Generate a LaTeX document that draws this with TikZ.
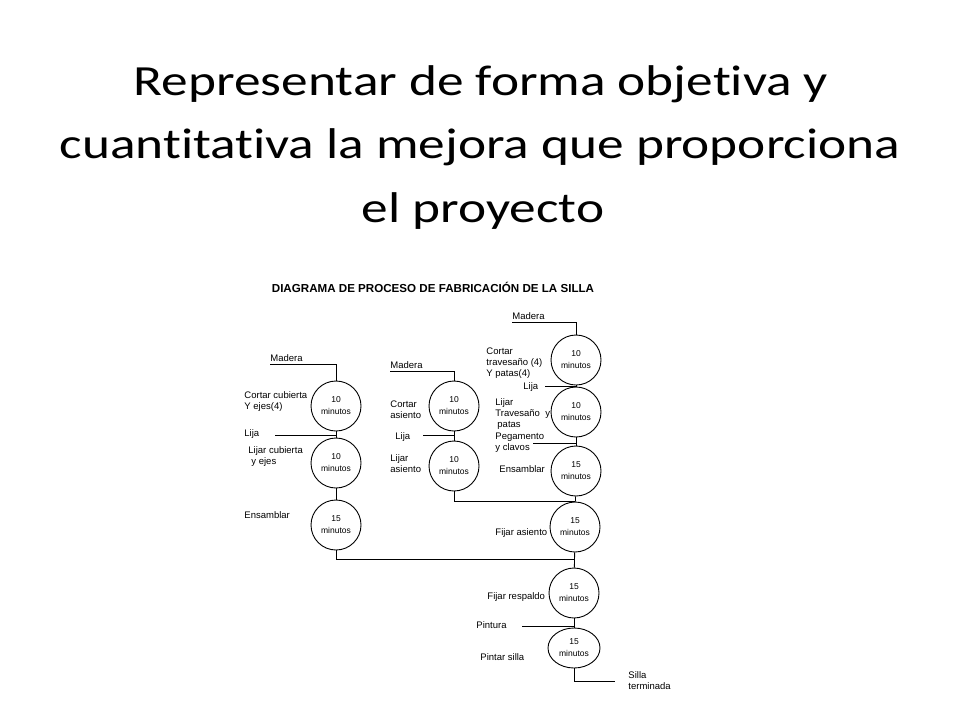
\documentclass[tikz,border=0pt]{standalone}
\usepackage{fontspec}
\setmainfont{Liberation Sans}
\newfontfamily\titlefont{Carlito}[FakeStretch=1.24,Ligatures=NoCommon]
\usetikzlibrary{shapes.geometric}

\begin{document}
\begin{tikzpicture}[x=1pt,y=-1pt,line width=0.9pt,
  paso/.style={draw, circle, minimum size=50pt, inner sep=0pt, align=center, font=\fontsize{8.5}{12}\selectfont},
  etiq/.style={anchor=west, align=left, inner sep=0pt, font=\fontsize{9.5}{11}\selectfont}]
\useasboundingbox (0,0) rectangle (960,720);

% title
\node[anchor=base, font=\titlefont\fontsize{43}{50}\selectfont] (tit1) at (481,95) {Representar de forma objetiva y};
\node[anchor=base, font=\titlefont\fontsize{43}{50}\selectfont] (tit2) at (480,158) {cuantitativa la mejora que proporciona};
\node[anchor=base, font=\titlefont\fontsize{43}{50}\selectfont] (tit3) at (483,222) {el proyecto};

\node[font=\bfseries\fontsize{11.6}{13}\selectfont] (diagtit) at (433,287) {DIAGRAMA DE PROCESO DE FABRICACIÓN DE LA SILLA};

% steps
\node[paso] (c1a) at (336,406) {10\\minutos};
\node[paso] (c1b) at (336,463) {10\\minutos};
\node[paso] (c1c) at (336,525) {15\\minutos};
\node[paso] (c2a) at (454,406) {10\\minutos};
\node[paso] (c2b) at (454,466) {10\\minutos};
\node[paso] (c3a) at (576,360) {10\\minutos};
\node[paso] (c3b) at (576,412) {10\\minutos};
\node[paso] (c3c) at (576,471) {15\\minutos};
\node[paso] (c4) at (575,527) {15\\minutos};
\node[paso] (c5) at (574,593) {15\\minutos};
\node[paso, ellipse, minimum width=52pt, minimum height=40pt] (c6) at (574,648) {15\\minutos};

% inputs
\coordinate (m1) at (270,364);
\coordinate (m2) at (390,371);
\coordinate (m3) at (512,322);
\coordinate (l1) at (275,435);
\coordinate (l2) at (423,435);
\coordinate (l3) at (545,386);
\coordinate (pg) at (533,443);
\coordinate (pt) at (522,626);
\coordinate (j2) at (574,559);
\coordinate (fin) at (615,681);

\node[etiq, anchor=base west] (tmad1) at (270,361) {Madera};
\node[etiq, anchor=base west] (tmad2) at (390,368) {Madera};
\node[etiq, anchor=base west] (tmad3) at (512,319) {Madera};

\draw (m1) -| (c1a.north);
\draw (m2) -| (c2a.north);
\draw (m3) -| (c3a.north);
\draw (l1) -- (l1 -| c1a);
\draw (l2) -- (l2 -| c2a);
\draw (l3) -- (l3 -| c3a);
\draw (pg) -- (pg -| c3b);
\draw (pt) -- (pt -| c5);

\draw (c1a) -- (c1b);
\draw (c1b) -- (c1c);
\draw (c2a) -- (c2b);
\draw (c3a) -- (c3b);
\draw (c3b) -- (c3c);
\draw (c3c) -- (c4);
\draw (c4) -- (c5);
\draw (c5) -- (c6);
\draw (c2b.south) |- (c4.north);
\draw (c1c.south) |- (j2);
\draw (c6.south) |- (fin);

% labels
\node[etiq] (tcortar1) at (244,402) {Cortar cubierta\\Y ejes(4)};
\node[etiq] (tlija1) at (244,434) {Lija};
\node[etiq] (tlijar1) at (248,457) {Lijar cubierta\\\hspace{3pt}y ejes};
\node[etiq] (tens1) at (244,515) {Ensamblar};
\node[etiq] (tcortar2) at (390,410) {Cortar\\asiento};
\node[etiq] (tlija2) at (395,437) {Lija};
\node[etiq] (tlijar2) at (390,464) {Lijar\\asiento};
\node[etiq] (tcortar3) at (486,363) {Cortar\\travesaño (4)\\Y patas(4)};
\node[etiq] (tlija3) at (523,387) {Lija};
\node[etiq] (tlijar3) at (495,414) {Lijar\\Travesaño~~y\\\hspace{2pt}patas};
\node[etiq] (tpeg) at (495,443) {Pegamento\\y clavos};
\node[etiq] (tens3) at (499,469) {Ensamblar};
\node[etiq] (tfijar1) at (495,533) {Fijar asiento};
\node[etiq] (tfijar2) at (487,597) {Fijar respaldo};
\node[etiq] (tpint) at (476,625) {Pintura};
\node[etiq] (tpintar) at (480,657) {Pintar silla};
\node[etiq] (tsilla) at (628,681) {Silla\\terminada};
\end{tikzpicture}
\end{document}
